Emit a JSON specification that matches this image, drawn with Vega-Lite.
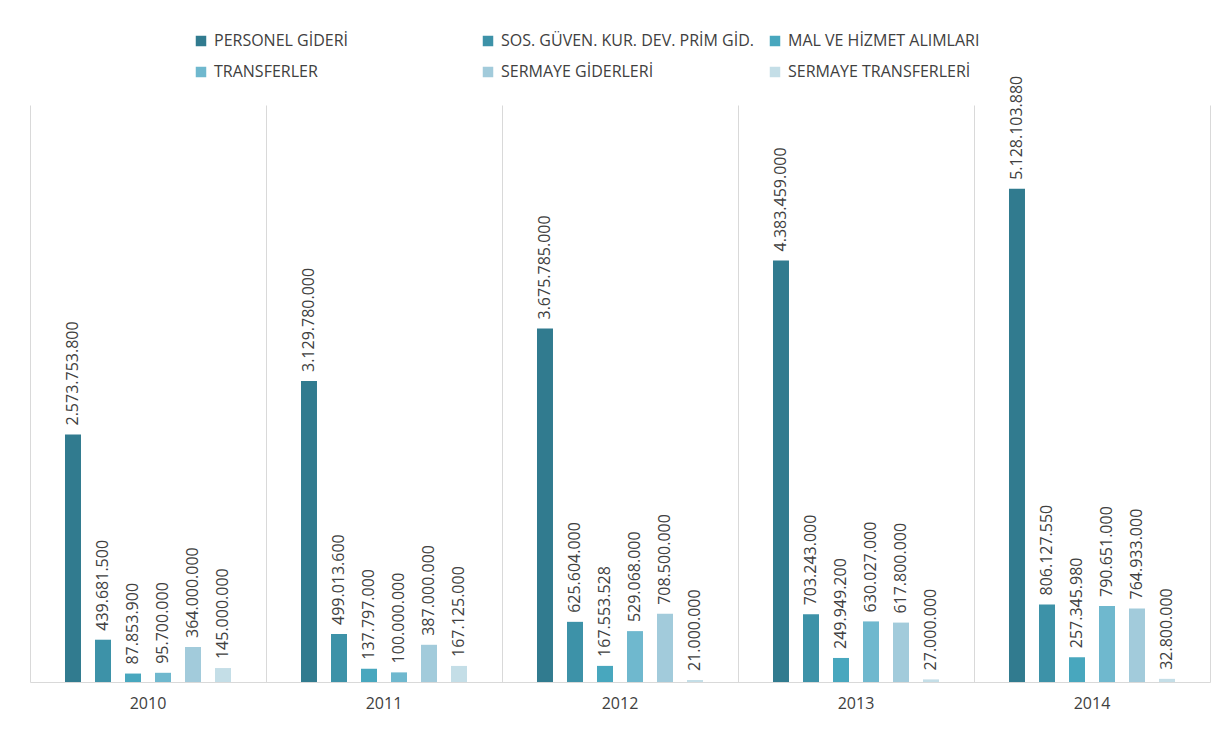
{
  "$schema": "https://vega.github.io/schema/vega-lite/v6.json",
  "width": 1180,
  "height": 577,
  "autosize": "none",
  "padding": {"left": 30, "top": 105, "right": 19, "bottom": 47},
  "background": "white",
  "config": {
    "locale": {"number": {"decimal": ",", "thousands": ".", "grouping": [3], "currency": ["", ""]}},
    "view": {"stroke": null},
    "font": "Open Sans"
  },
  "data": {
    "values": [
      {"yil": "2010", "kalem": "PERSONEL GİDERİ", "tutar": 2573753800},
      {"yil": "2010", "kalem": "SOS. GÜVEN. KUR. DEV. PRİM GİD.", "tutar": 439681500},
      {"yil": "2010", "kalem": "MAL VE HİZMET ALIMLARI", "tutar": 87853900},
      {"yil": "2010", "kalem": "TRANSFERLER", "tutar": 95700000},
      {"yil": "2010", "kalem": "SERMAYE GİDERLERİ", "tutar": 364000000},
      {"yil": "2010", "kalem": "SERMAYE TRANSFERLERİ", "tutar": 145000000},
      {"yil": "2011", "kalem": "PERSONEL GİDERİ", "tutar": 3129780000},
      {"yil": "2011", "kalem": "SOS. GÜVEN. KUR. DEV. PRİM GİD.", "tutar": 499013600},
      {"yil": "2011", "kalem": "MAL VE HİZMET ALIMLARI", "tutar": 137797000},
      {"yil": "2011", "kalem": "TRANSFERLER", "tutar": 100000000},
      {"yil": "2011", "kalem": "SERMAYE GİDERLERİ", "tutar": 387000000},
      {"yil": "2011", "kalem": "SERMAYE TRANSFERLERİ", "tutar": 167125000},
      {"yil": "2012", "kalem": "PERSONEL GİDERİ", "tutar": 3675785000},
      {"yil": "2012", "kalem": "SOS. GÜVEN. KUR. DEV. PRİM GİD.", "tutar": 625604000},
      {"yil": "2012", "kalem": "MAL VE HİZMET ALIMLARI", "tutar": 167553528},
      {"yil": "2012", "kalem": "TRANSFERLER", "tutar": 529068000},
      {"yil": "2012", "kalem": "SERMAYE GİDERLERİ", "tutar": 708500000},
      {"yil": "2012", "kalem": "SERMAYE TRANSFERLERİ", "tutar": 21000000},
      {"yil": "2013", "kalem": "PERSONEL GİDERİ", "tutar": 4383459000},
      {"yil": "2013", "kalem": "SOS. GÜVEN. KUR. DEV. PRİM GİD.", "tutar": 703243000},
      {"yil": "2013", "kalem": "MAL VE HİZMET ALIMLARI", "tutar": 249949200},
      {"yil": "2013", "kalem": "TRANSFERLER", "tutar": 630027000},
      {"yil": "2013", "kalem": "SERMAYE GİDERLERİ", "tutar": 617800000},
      {"yil": "2013", "kalem": "SERMAYE TRANSFERLERİ", "tutar": 27000000},
      {"yil": "2014", "kalem": "PERSONEL GİDERİ", "tutar": 5128103880},
      {"yil": "2014", "kalem": "SOS. GÜVEN. KUR. DEV. PRİM GİD.", "tutar": 806127550},
      {"yil": "2014", "kalem": "MAL VE HİZMET ALIMLARI", "tutar": 257345980},
      {"yil": "2014", "kalem": "TRANSFERLER", "tutar": 790651000},
      {"yil": "2014", "kalem": "SERMAYE GİDERLERİ", "tutar": 764933000},
      {"yil": "2014", "kalem": "SERMAYE TRANSFERLERİ", "tutar": 32800000}
    ]
  },
  "encoding": {
    "x": {
      "field": "yil", "type": "nominal",
      "scale": {"paddingInner": 0.2966, "paddingOuter": 0.1483},
      "axis": {
        "title": null, "labelAngle": 0, "bandPosition": -0.2108,
        "grid": true, "gridColor": "#d9d9d9", "gridWidth": 1,
        "ticks": false, "domain": true, "domainColor": "#d9d9d9",
        "labelFont": "Open Sans", "labelFontSize": 16, "labelColor": "#404040",
        "labelPadding": 13, "labelAlign": "center"
      }
    },
    "xOffset": {
      "field": "kalem", "type": "nominal",
      "sort": ["PERSONEL GİDERİ", "SOS. GÜVEN. KUR. DEV. PRİM GİD.", "MAL VE HİZMET ALIMLARI", "TRANSFERLER", "SERMAYE GİDERLERİ", "SERMAYE TRANSFERLERİ"],
      "scale": {"paddingInner": 0.467, "paddingOuter": 0}
    },
    "y": {
      "field": "tutar", "type": "quantitative",
      "scale": {"domain": [0, 6000000000], "nice": false},
      "axis": {"orient": "right", "title": null, "labels": false, "ticks": false, "grid": false, "domain": true, "domainColor": "#d9d9d9"}
    }
  },
  "layer": [
    {
      "mark": {"type": "bar"},
      "encoding": {
        "color": {
          "field": "kalem", "type": "nominal",
          "sort": ["PERSONEL GİDERİ", "SOS. GÜVEN. KUR. DEV. PRİM GİD.", "MAL VE HİZMET ALIMLARI", "TRANSFERLER", "SERMAYE GİDERLERİ", "SERMAYE TRANSFERLERİ"],
          "scale": {
            "domain": ["PERSONEL GİDERİ", "SOS. GÜVEN. KUR. DEV. PRİM GİD.", "MAL VE HİZMET ALIMLARI", "TRANSFERLER", "SERMAYE GİDERLERİ", "SERMAYE TRANSFERLERİ"],
            "range": ["#317b8f", "#3d92a8", "#48a7be", "#6fb8ce", "#a2cbdb", "#c4dee7"]
          },
          "legend": {
            "title": null, "orient": "none", "direction": "horizontal", "columns": 3,
            "gridAlign": "all",
            "legendX": 163, "legendY": -72,
            "symbolType": "square", "symbolSize": 110, "symbolStrokeWidth": 0,
            "labelFont": "Open Sans", "labelFontSize": 16, "labelColor": "#404040",
            "labelLimit": 500, "columnPadding": 12, "rowPadding": 15, "labelOffset": 5
          }
        }
      }
    },
    {
      "mark": {"type": "text", "angle": 270, "align": "left", "baseline": "middle", "dx": 9, "fontSize": 16, "font": "Open Sans", "color": "#404040"},
      "encoding": {
        "text": {"field": "tutar", "type": "quantitative", "format": ",.0f"}
      }
    }
  ]
}
